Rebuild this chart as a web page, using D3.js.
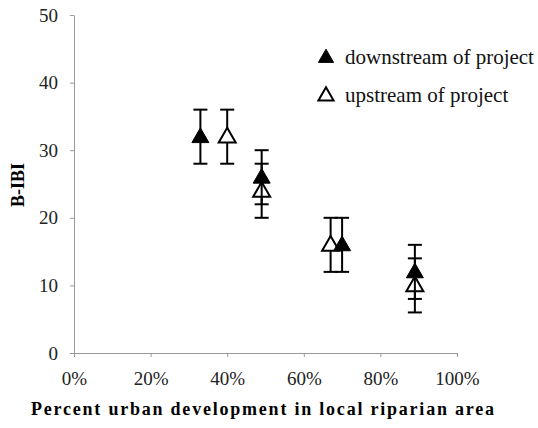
<!DOCTYPE html>
<html>
<head>
<meta charset="utf-8">
<script src="https://cdn.jsdelivr.net/npm/d3@7"></script>
<style>
  body { margin: 0; background: #fff; }
  svg { display: block; font-family: "Liberation Serif", "Times New Roman", serif; }
</style>
</head>
<body>
<div id="chart"></div>
<script>
var xTicks = [0, 0.2, 0.4, 0.6, 0.8, 1.0];
var yTicks = [0, 10, 20, 30, 40, 50];

var downX = [0.33, 0.49, 0.70, 0.89];
var downY = [32, 26, 16, 12];
var downErr = [4, 4, 4, 4];

var upX = [0.40, 0.49, 0.67, 0.89];
var upY = [32, 24, 16, 10];
var upErr = [4, 4, 4, 4];

var seriesNames = ["downstream of project", "upstream of project"];

var W = 538, H = 428;

var svg = d3.select("#chart").append("svg")
    .attr("width", W)
    .attr("height", H);

var x = d3.scaleLinear().domain([0, 1]).range([74, 457]);
var y = d3.scaleLinear().domain([0, 50]).range([353, 15]);

// axes
var xAxis = svg.append("g")
    .attr("transform", "translate(0," + y(0) + ")")
    .call(d3.axisBottom(x).tickValues(xTicks).tickFormat(d3.format(".0%")).tickSizeInner(4).tickSizeOuter(0).tickPadding(15));

var yAxis = svg.append("g")
    .attr("transform", "translate(" + x(0) + ",0)")
    .call(d3.axisLeft(y).tickValues(yTicks).tickSizeInner(4).tickSizeOuter(0).tickPadding(12));

[xAxis, yAxis].forEach(function(g) {
    g.select(".domain").attr("stroke", "#999").attr("stroke-width", 1);
    g.selectAll(".tick line").attr("stroke", "#999");
    g.selectAll(".tick text")
        .attr("fill", "#222")
        .style("font-family", "'Liberation Serif', serif")
        .style("font-size", "19px");
});

// axis titles
svg.append("text")
    .attr("transform", "translate(24,185) rotate(-90)")
    .attr("text-anchor", "middle")
    .style("font-weight", "bold")
    .style("font-size", "18px")
    .text("B-IBI");

svg.append("text")
    .attr("x", 31)
    .attr("y", 415)
    .attr("textLength", 463)
    .attr("lengthAdjust", "spacing")
    .style("font-weight", "bold")
    .style("font-size", "18px")
    .text("Percent urban development in local riparian area");

var tri = d3.symbol().type(d3.symbolTriangle).size(125);
var legTri = d3.symbol().type(d3.symbolTriangle).size(100);

function drawSeries(xs, ys, errs, filled) {
    var g = svg.append("g");
    var pts = xs.map(function(v, i) { return {x: v, y: ys[i], e: errs[i]}; });

    var eb = g.selectAll(".err").data(pts).enter().append("g")
        .attr("stroke", "#000")
        .attr("stroke-width", 2);
    eb.append("line")
        .attr("x1", function(d) { return x(d.x); })
        .attr("x2", function(d) { return x(d.x); })
        .attr("y1", function(d) { return y(d.y + d.e); })
        .attr("y2", function(d) { return y(d.y - d.e); });
    eb.append("line")
        .attr("x1", function(d) { return x(d.x) - 7; })
        .attr("x2", function(d) { return x(d.x) + 7; })
        .attr("y1", function(d) { return y(d.y + d.e); })
        .attr("y2", function(d) { return y(d.y + d.e); });
    eb.append("line")
        .attr("x1", function(d) { return x(d.x) - 7; })
        .attr("x2", function(d) { return x(d.x) + 7; })
        .attr("y1", function(d) { return y(d.y - d.e); })
        .attr("y2", function(d) { return y(d.y - d.e); });

    g.selectAll(".pt").data(pts).enter().append("path")
        .attr("d", tri)
        .attr("transform", function(d) { return "translate(" + x(d.x) + "," + (y(d.y) + 1) + ")"; })
        .attr("fill", filled ? "#000" : "#fff")
        .attr("stroke", "#000")
        .attr("stroke-width", filled ? 1 : 2);
}

drawSeries(upX, upY, upErr, false);
drawSeries(downX, downY, downErr, true);

// legend
var leg = svg.append("g").attr("transform", "translate(326,0)");
seriesNames.forEach(function(name, i) {
    var cy = 57 + i * 38;
    leg.append("path")
        .attr("d", legTri)
        .attr("transform", "translate(0," + (cy + 1) + ")")
        .attr("fill", i === 0 ? "#000" : "#fff")
        .attr("stroke", "#000")
        .attr("stroke-width", i === 0 ? 1 : 2);
    leg.append("text")
        .attr("x", 19)
        .attr("y", cy + 7)
        .attr("fill", "#111")
        .style("font-size", "21px")
        .text(name);
});
</script>
</body>
</html>
